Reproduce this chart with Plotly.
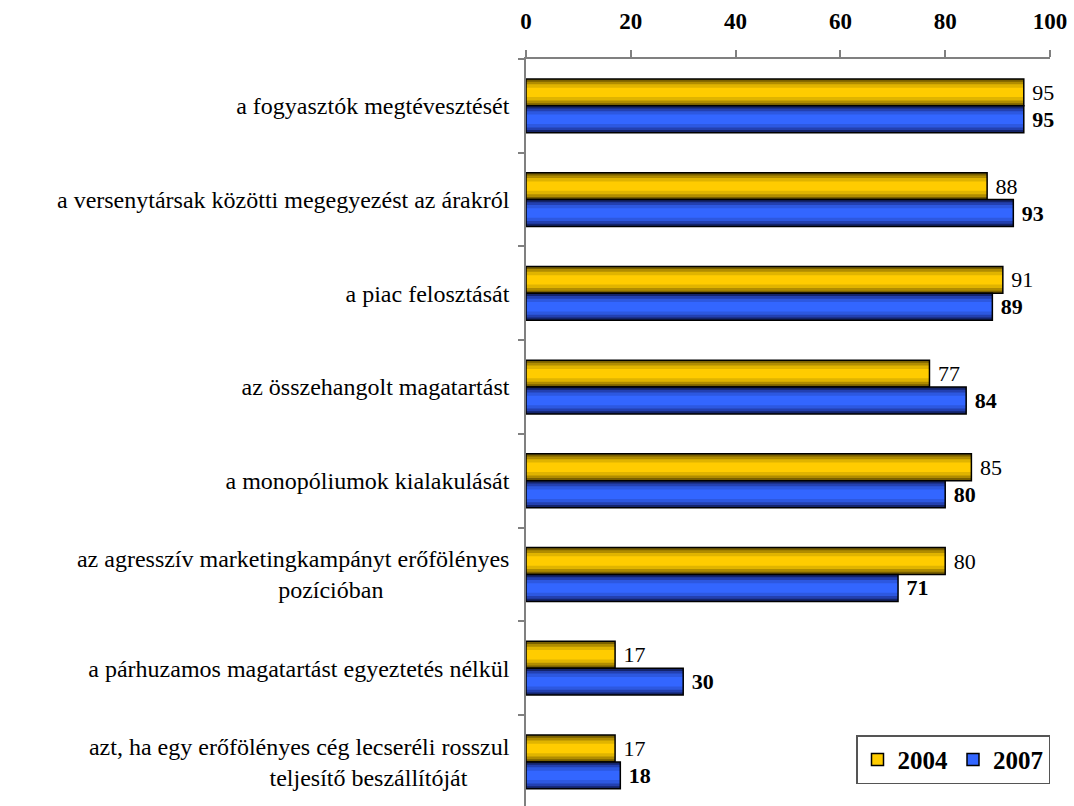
import plotly.graph_objects as go

NB = "\u00a0"

categories = [
    "a fogyasztók megtévesztését",
    "a versenytársak közötti megegyezést az árakról",
    "a piac felosztását",
    "az összehangolt magatartást",
    "a monopóliumok kialakulását",
    "az agresszív marketingkampányt erőfölényes<br>pozícióban" + NB * 21,
    "a párhuzamos magatartást egyeztetés nélkül",
    "azt, ha egy erőfölényes cég lecseréli rosszul<br>teljesítő beszállítóját" + NB * 7,
]
v2004 = [95, 88, 91, 77, 85, 80, 17, 17]
v2007 = [95, 93, 89, 84, 80, 71, 30, 18]

serif = "Liberation Serif"

# bar thickness in category units, and colour layers (outer -> inner) to fake the gradient
bw = 0.287
layers_2004 = [(1.0, "#7a6000"), (0.8, "#b08c00"), (0.6, "#e0b400"), (0.35, "#ffcc00")]
layers_2007 = [(1.0, "#14246a"), (0.8, "#2340b0"), (0.6, "#2d58e0"), (0.35, "#3366ff")]

fig = go.Figure()

def add_series(vals, layers, center, name, bold):
    for frac, col in layers:
        w = bw * frac
        fig.add_trace(go.Bar(
            x=vals, y=categories, orientation="h",
            width=w, offset=center - w / 2,
            marker=dict(color=col, line=dict(width=0)),
            showlegend=False, hoverinfo="skip",
        ))
    # outline + value labels on top
    fig.add_trace(go.Bar(
        x=vals, y=categories, orientation="h",
        width=bw, offset=center - bw / 2,
        marker=dict(color="rgba(0,0,0,0)", line=dict(color="black", width=1.5)),
        text=[NB + (f"<b>{v}</b>" if bold else str(v)) for v in vals],
        textposition="outside", cliponaxis=False,
        textfont=dict(family=serif, size=22, color="black"),
        showlegend=False, name=name,
    ))

add_series(v2004, layers_2004, -bw / 2, "2004", False)
add_series(v2007, layers_2007, bw / 2, "2007", True)

# legend entries
for name, col in [("2004", "#ffcc00"), ("2007", "#3366ff")]:
    fig.add_trace(go.Bar(
        x=[None], y=[None], orientation="h", name=name,
        marker=dict(color=col, line=dict(color="black", width=1.5)),
    ))

fig.update_layout(
    width=1074, height=806,
    margin=dict(l=526, r=24, t=59, b=0),
    barmode="overlay",
    plot_bgcolor="white", paper_bgcolor="white",
    font=dict(family=serif, color="black"),
    legend=dict(
        orientation="h", x=1.0, xanchor="right", y=0.029, yanchor="bottom",
        bordercolor="#555555", borderwidth=1.5, bgcolor="white",
        font=dict(family=serif, size=25, color="black", weight="bold"),
        itemwidth=30, tracegroupgap=0,
    ),
    xaxis=dict(
        side="top", range=[0, 100], tickvals=[0, 20, 40, 60, 80, 100],
        showgrid=False, zeroline=False, automargin=False,
        showline=True, linecolor="#808080", linewidth=1.5,
        ticks="outside", ticklen=7, tickcolor="#808080", tickwidth=1.5,
        ticklabelstandoff=12,
        tickfont=dict(family=serif, size=23, color="black", weight="bold"),
    ),
    yaxis=dict(
        type="category", categoryorder="array", categoryarray=categories,
        range=[7.47, -0.5], automargin=False,
        showgrid=False, zeroline=False,
        showline=True, linecolor="#808080", linewidth=1.5,
        ticks="outside", ticklen=6, tickcolor="#808080", tickwidth=1.5,
        tickson="boundaries", ticklabelstandoff=10,
        tickfont=dict(family=serif, size=24, color="black"),
    ),
)

fig.write_html("out.html", config={"displayModeBar": False},
               post_script="document.body.style.margin='0';")
